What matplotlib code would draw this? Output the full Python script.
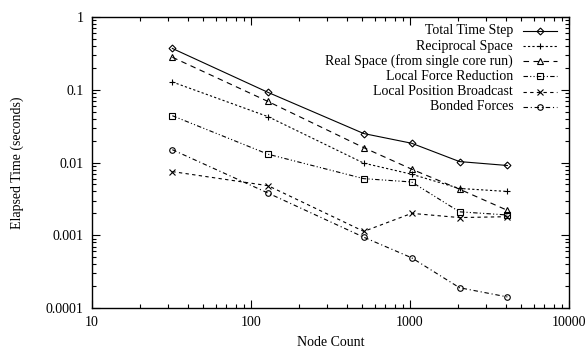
import numpy as np
import matplotlib
matplotlib.use("Agg")
import matplotlib.pyplot as plt
from matplotlib.lines import Line2D
from matplotlib.ticker import LogLocator, FixedLocator, FixedFormatter, NullFormatter

plt.rcParams['font.family'] = ['Liberation Serif', 'DejaVu Serif']

nodes = [32, 128, 512, 1024, 2048, 4096]
total_step = [0.37, 0.092, 0.025, 0.0184, 0.0103, 0.0091]
reciprocal = [0.128, 0.0427, 0.0098, 0.0069, 0.0044, 0.0040]
real_space = [0.28, 0.069, 0.016, 0.0081, 0.0043, 0.0022]
force_red = [0.044, 0.013, 0.006, 0.0054, 0.0021, 0.0019]
pos_bcast = [0.0075, 0.0048, 0.00113, 0.0020, 0.00175, 0.0018]
bonded = [0.015, 0.0038, 0.00094, 0.00049, 0.000190, 0.000142]

labels = ["Total Time Step", "Reciprocal Space", "Real Space (from single core run)",
          "Local Force Reduction", "Local Position Broadcast", "Bonded Forces"]
series = [total_step, reciprocal, real_space, force_red, pos_bcast, bonded]
markers = ['D', '+', '^', 's', 'x', 'o']
msizes = [3.5, 5, 4.5, 4, 4.5, 4]
dashes = [None, (2, 2), (5, 4), (4, 2, 1, 2, 1, 2), (3, 3), (4, 2.5, 1, 2.5)]

fig = plt.figure(figsize=(5.88, 3.51), dpi=100)
ax = fig.add_axes([0.1565, 0.1225, 0.8112, 0.829])

for vals, lab, m, ms, d in zip(series, labels, markers, msizes, dashes):
    ln, = ax.plot(nodes, vals, color='black', lw=0.8, marker=m, ms=ms,
                  mfc='none', mec='black', mew=0.8)
    if d is not None:
        ln.set_dashes(d)

ax.set_xscale('log')
ax.set_yscale('log')
ax.set_xlim(10, 10000)
ax.set_ylim(0.0001, 1)

ax.xaxis.set_major_locator(FixedLocator([10, 100, 1000, 10000]))
ax.xaxis.set_major_formatter(FixedFormatter(['10', '100', '1000', '10000']))
ax.yaxis.set_major_locator(FixedLocator([0.0001, 0.001, 0.01, 0.1, 1]))
ax.yaxis.set_major_formatter(FixedFormatter(['0.0001', '0.001', '0.01', '0.1', '1']))
ax.xaxis.set_minor_locator(LogLocator(base=10, subs=np.arange(2, 10)))
ax.yaxis.set_minor_locator(LogLocator(base=10, subs=np.arange(2, 10)))
ax.xaxis.set_minor_formatter(NullFormatter())
ax.yaxis.set_minor_formatter(NullFormatter())

ax.tick_params(which='both', direction='in', top=True, right=True, labelsize=10, width=0.8)
ax.tick_params(which='major', length=6, pad=6)
ax.tick_params(which='minor', length=3)
for s in ax.spines.values():
    s.set_linewidth(1.0)

ax.set_xlabel('Node Count', fontsize=10)
ax.set_ylabel('Elapsed Time (seconds)', fontsize=10)
ax.xaxis.set_label_coords(0.5, -0.095)
ax.yaxis.set_label_coords(-0.142, 0.5)

# gnuplot-style legend: text right aligned, sample on the right
y0 = 0.952
dy = 0.052
for i, (lab, m, ms, d) in enumerate(zip(labels, markers, msizes, dashes)):
    y = y0 - i * dy
    ax.text(0.883, y, lab, transform=ax.transAxes, ha='right', va='center', fontsize=10)
    ln = Line2D([0.904, 0.975], [y, y], transform=ax.transAxes, color='black', lw=0.8)
    if d is not None:
        ln.set_dashes(d)
    ax.add_line(ln)
    ax.add_line(Line2D([0.939], [y], transform=ax.transAxes, marker=m, ms=ms,
                       mfc='none', mec='black', mew=0.8, lw=0))

fig.savefig('out.png', dpi=100)
